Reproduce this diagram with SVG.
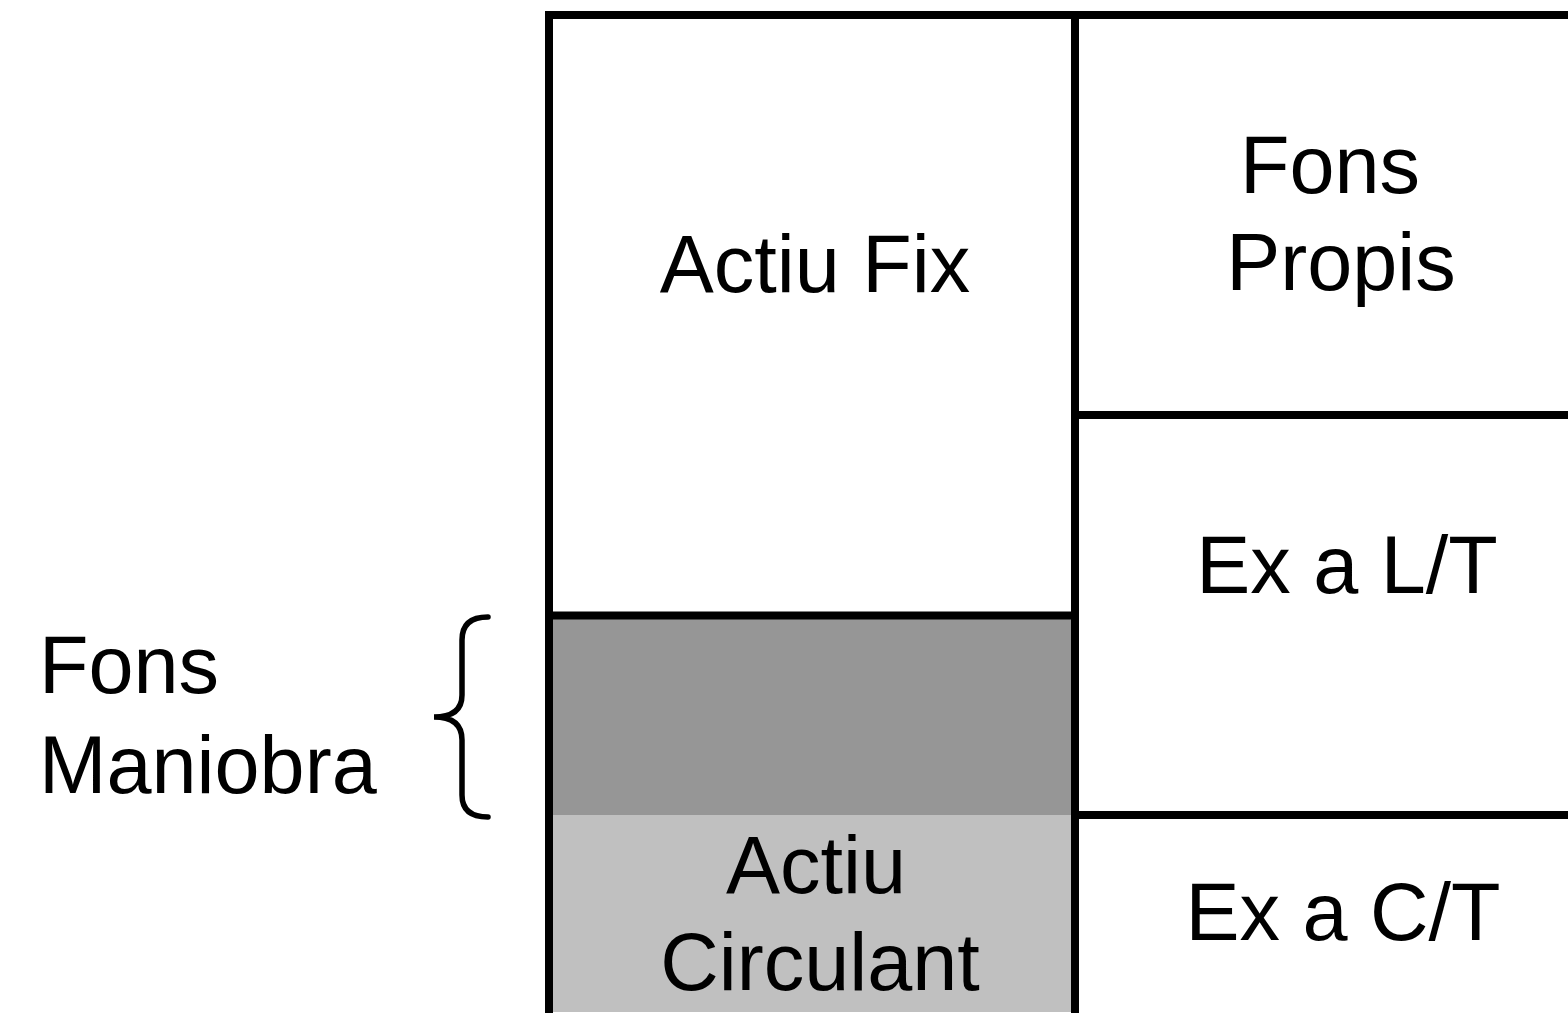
<svg xmlns="http://www.w3.org/2000/svg" width="1568" height="1013" viewBox="0 0 1568 1013">
<style>
text{font-family:"Liberation Sans",Arial,sans-serif;font-size:81px;fill:#000}
.c{text-anchor:middle}
.ln{stroke:#000;stroke-width:8;fill:none}
</style>
<rect width="1568" height="1013" fill="#fff"/>
<g id="fons-maniobra-area"><rect x="549" y="615" width="526" height="200" fill="#969696"/></g>
<g id="actiu-circulant"><rect x="549" y="815" width="526" height="197" fill="#c0c0c0"/>
<text class="c" x="816" y="893">Actiu</text><text class="c" x="820" y="990">Circulant</text></g>
<g id="actiu-fix"><text class="c" x="815" y="292">Actiu Fix</text></g>
<g id="fons-propis"><text class="c" x="1330" y="193">Fons</text><text class="c" x="1341" y="290">Propis</text></g>
<g id="ex-lt"><text class="c" x="1347" y="593">Ex a L/T</text></g>
<g id="ex-ct"><text class="c" x="1343" y="940">Ex a C/T</text></g>
<g id="fons-maniobra"><text x="39" y="693">Fons</text><text x="39" y="793">Maniobra</text></g>
<g id="connectors">
<path class="ln" d="M545 15H1568M549 11V1013M1075 15V1013M549 615.5H1079M1075 415H1568M1075 815H1568"/>
<path d="M488 617 Q462 617 462 640 V695 Q462 717 434 717 Q462 717 462 740 V795 Q462 817 488 817" fill="none" stroke="#000" stroke-width="5.5" stroke-linecap="round"/>
</g>
</svg>
